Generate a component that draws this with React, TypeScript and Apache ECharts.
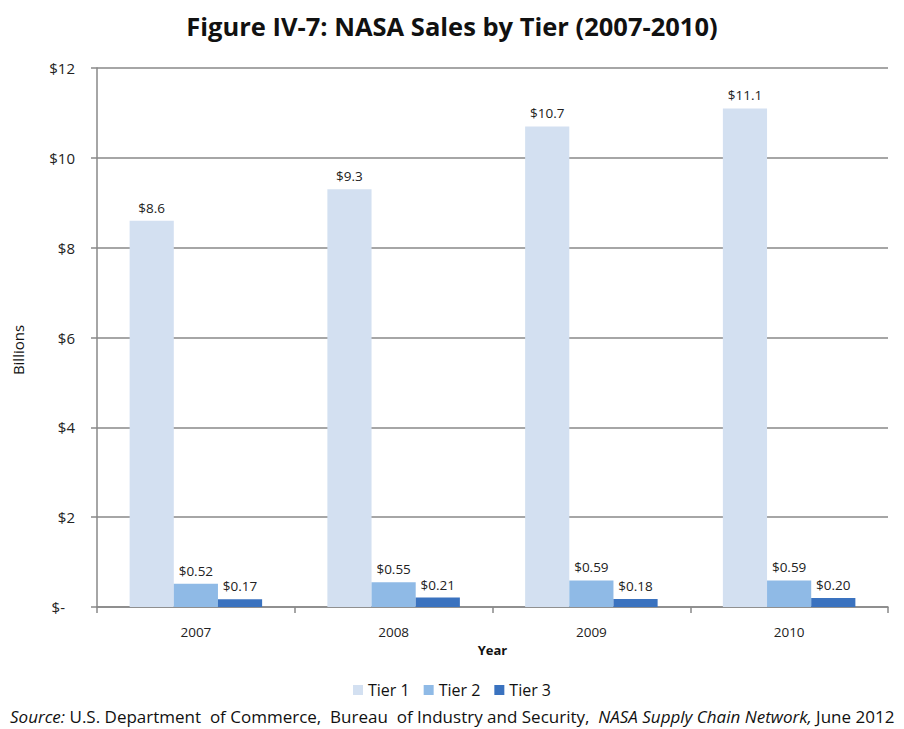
import React, { useEffect, useRef } from "react";
import * as echarts from "echarts";

const years = ["2007", "2008", "2009", "2010"];
const tier1 = [8.6, 9.3, 10.7, 11.1];
const tier2 = [0.52, 0.55, 0.59, 0.59];
const tier3 = [0.17, 0.21, 0.18, 0.2];
const tier1Labels = ["$8.6", "$9.3", "$10.7", "$11.1"];
const tier2Labels = ["$0.52", "$0.55", "$0.59", "$0.59"];
const tier3Labels = ["$0.17", "$0.21", "$0.18", "$0.20"];
const seriesNames = ["Tier 1", "Tier 2", "Tier 3"];
const colors = ["#d3e0f1", "#8fbae6", "#3a72bf"];

const FONT = "'Open Sans', 'Noto Sans', sans-serif";

export default function App() {
  const ref = useRef<HTMLDivElement>(null);
  useEffect(() => {
    document.body.style.margin = "0";
    const chart = echarts.init(ref.current!, null, { renderer: "svg" });
    const mkSeries = (name: string, data: number[], labels: string[], color: string) => ({
      name,
      type: "bar",
      data,
      barGap: "0%",
      barCategoryGap: "33%",
      itemStyle: { color },
      label: {
        show: true,
        position: "top",
        distance: 6,
        color: "#222",
        fontFamily: FONT,
        fontSize: 13.5,
        formatter: (p: any) => labels[p.dataIndex],
      },
    });
    chart.setOption({
      animation: false,
      backgroundColor: "#ffffff",
      textStyle: { fontFamily: FONT },
      title: {
        text: "Figure IV-7: NASA Sales by Tier (2007-2010)",
        left: "center",
        top: 8,
        textStyle: { fontFamily: FONT, fontSize: 25.5, fontWeight: "bold", color: "#111" },
      },
      grid: { left: 97, right: 16, top: 68, bottom: 122 },
      legend: {
        data: seriesNames,
        left: "center",
        top: 677,
        itemWidth: 10,
        itemHeight: 10,
        itemGap: 14,
        icon: "rect",
        textStyle: { fontFamily: FONT, fontSize: 16, color: "#111" },
      },
      xAxis: {
        type: "category",
        data: years,
        name: "Year",
        nameLocation: "middle",
        nameGap: 34,
        nameTextStyle: { fontFamily: FONT, fontSize: 13, fontWeight: "bold", color: "#111" },
        axisLine: { lineStyle: { color: "#888", width: 1.5 } },
        axisTick: { show: true, length: 6, lineStyle: { color: "#888", width: 1.5 } },
        axisLabel: { margin: 18, fontFamily: FONT, fontSize: 13.5, color: "#222" },
      },
      yAxis: {
        type: "value",
        min: 0,
        max: 12,
        interval: 2,
        axisLine: { show: true, lineStyle: { color: "#888", width: 1.5 } },
        axisTick: { show: true, length: 6, lineStyle: { color: "#888", width: 1.5 } },
        splitLine: { lineStyle: { color: "#888", width: 1.5 } },
        axisLabel: {
          margin: 22,
          fontFamily: FONT,
          fontSize: 15,
          color: "#222",
          formatter: (v: number) => (v === 0 ? "{z|$-}" : "$" + v),
          rich: {
            z: { fontFamily: FONT, fontSize: 15, color: "#222", padding: [0, 10, 0, 0] },
          },
        },
      },
      graphic: [
        {
          type: "text",
          x: 18,
          y: 350,
          rotation: Math.PI / 2,
          style: {
            text: "Billions",
            fontFamily: FONT,
            fontSize: 15,
            fill: "#111",
            align: "center",
            verticalAlign: "middle",
          },
        },
        {
          type: "text",
          x: 10,
          y: 716,
          style: {
            text:
              "{i|Source:} U.S. Department  of Commerce,  Bureau  of Industry and Security,  {i|NASA Supply Chain Network,} June 2012",
            fontFamily: FONT,
            fontSize: 17,
            fill: "#111",
            verticalAlign: "middle",
            rich: {
              i: { fontStyle: "italic", fontFamily: FONT, fontSize: 17, fill: "#111" },
            },
          },
        },
      ],
      series: [
        mkSeries(seriesNames[0], tier1, tier1Labels, colors[0]),
        mkSeries(seriesNames[1], tier2, tier2Labels, colors[1]),
        mkSeries(seriesNames[2], tier3, tier3Labels, colors[2]),
      ],
    });
    return () => chart.dispose();
  }, []);
  return <div ref={ref} style={{ width: 904, height: 729 }} />;
}
